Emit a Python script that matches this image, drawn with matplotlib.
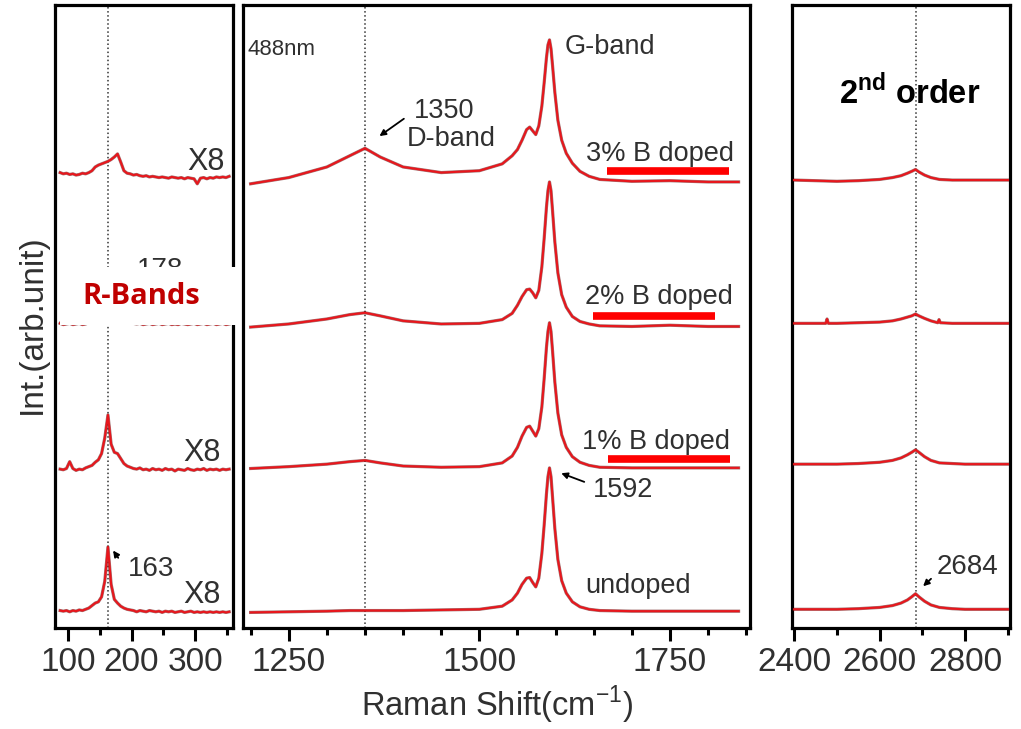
import numpy as np
import matplotlib
matplotlib.use("Agg")
import matplotlib.pyplot as plt
from matplotlib.patches import Rectangle

plt.rcParams['font.family'] = ['Liberation Sans', 'DejaVu Sans']
plt.rcParams['mathtext.fontset'] = 'custom'
plt.rcParams['mathtext.rm'] = 'Liberation Sans'
plt.rcParams['mathtext.bf'] = 'Liberation Sans:bold'

# ---------------- data (arbitrary stacked units) ----------------
# low-frequency R-band region
x_left = [88, 93, 98, 103, 108, 113, 118, 123, 128, 133, 138, 143, 148, 153, 158, 163, 168, 173,
          178, 183, 188, 193, 198, 203, 208, 213, 218, 223, 228, 233, 238, 243, 248, 253, 258, 263,
          268, 273, 278, 283, 288, 293, 298, 303, 308, 313, 318, 323, 328, 333, 338, 343, 348, 353]
left_3 = [73.1, 72.9, 73.0, 72.8, 72.9, 72.7, 72.8, 73.0, 72.9, 73.1, 73.4, 74.0, 74.3, 74.5, 74.7,
          74.9, 75.2, 75.6, 76.1, 74.8, 73.4, 73.0, 72.9, 72.7, 72.8, 72.6, 72.5, 72.6, 72.4, 72.5,
          72.4, 72.3, 72.4, 72.3, 72.2, 72.4, 72.3, 72.2, 72.3, 72.1, 72.3, 72.2, 72.1, 71.3, 72.2,
          72.3, 72.1, 72.3, 72.2, 72.4, 72.3, 72.4, 72.3, 72.5]
left_2 = [48.9, 48.7, 48.8, 48.9, 48.7, 48.8, 48.9, 48.7, 48.8, 49.0, 49.1, 49.4, 49.8, 50.3, 51.0,
          51.8, 52.3, 53.0, 53.8, 51.5, 49.8, 49.2, 49.0, 48.9, 48.8, 48.9, 48.7, 48.8, 48.9, 48.7,
          48.8, 48.9, 48.7, 48.8, 48.9, 48.7, 48.8, 48.7, 48.9, 48.8, 48.7, 48.8, 48.9, 48.7, 48.8,
          48.9, 48.7, 48.8, 48.9, 48.7, 48.8, 48.9, 48.7, 48.8]
left_1 = [25.5, 25.4, 25.6, 26.7, 25.6, 25.3, 25.5, 25.4, 25.7, 25.9, 26.1, 26.6, 27.0, 28.0, 30.5,
          34.2, 29.5, 28.2, 28.0, 27.2, 26.4, 26.0, 25.8, 25.6, 25.5, 25.7, 25.4, 25.5, 25.3, 25.6,
          25.4, 25.5, 25.3, 25.6, 25.4, 25.5, 25.2, 25.5, 25.4, 25.3, 25.6, 25.4, 25.3, 25.5, 25.4,
          25.6, 25.3, 25.5, 25.4, 25.5, 25.3, 25.5, 25.4, 25.5]
left_0 = [2.8, 2.7, 2.8, 2.6, 2.8, 2.7, 2.9, 2.8, 3.0, 3.2, 3.6, 4.0, 4.2, 5.0, 7.5,
          13.0, 7.0, 4.6, 4.0, 3.5, 3.2, 3.0, 2.9, 2.8, 2.6, 2.8, 2.7, 2.6, 2.8, 2.7,
          2.6, 2.7, 2.5, 2.7, 2.6, 2.7, 2.5, 2.6, 2.7, 2.5, 2.6, 2.7, 2.5, 2.6, 2.5,
          2.6, 2.5, 2.6, 2.5, 2.6, 2.5, 2.6, 2.5, 2.6]

# first-order D / G region
x_mid = [1200, 1250, 1300, 1330, 1350, 1370, 1400, 1450, 1500, 1530, 1543, 1550, 1556, 1562,
         1566, 1570, 1574, 1578, 1582, 1585, 1588, 1590, 1592, 1594, 1596, 1599, 1603, 1608,
         1614, 1622, 1632, 1644, 1658, 1700, 1750, 1800, 1840]
mid_3 = [71.3, 72.3, 74.0, 75.8, 77.0, 75.6, 74.0, 73.1, 73.4, 74.5, 75.8, 76.8, 78.3, 80.0,
         80.4, 79.8, 79.2, 80.6, 83.8, 87.5, 91.5, 93.6, 94.4, 93.0, 90.3, 86.0, 81.5, 78.3,
         76.2, 74.6, 73.3, 72.5, 72.0, 71.7, 71.8, 71.6, 71.6]
mid_2 = [48.3, 48.8, 49.6, 50.3, 50.6, 50.1, 49.3, 48.8, 48.9, 49.5, 50.5, 51.8, 53.2, 54.3,
         54.4, 53.8, 53.0, 54.2, 58.0, 62.5, 67.5, 70.2, 71.6, 70.2, 67.0, 62.0, 57.0, 53.5,
         51.5, 50.0, 49.2, 48.8, 48.5, 48.4, 48.6, 48.4, 48.4]
mid_1 = [25.6, 25.9, 26.3, 26.7, 26.9, 26.5, 26.0, 25.8, 25.9, 26.5, 27.6, 29.0, 30.8, 32.2,
         32.4, 31.6, 30.8, 32.0, 35.5, 40.0, 45.0, 47.6, 49.0, 47.6, 44.5, 39.5, 34.5, 31.0,
         29.0, 27.5, 26.6, 26.1, 25.8, 25.7, 25.7, 25.7, 25.7]
mid_0 = [2.5, 2.6, 2.7, 2.8, 2.8, 2.8, 2.8, 2.9, 3.0, 3.5, 4.5, 5.6, 7.0, 8.0,
         8.1, 7.3, 6.6, 8.0, 12.0, 16.5, 21.5, 24.3, 25.7, 24.3, 21.0, 16.0, 11.0, 7.6,
         5.6, 4.2, 3.4, 3.0, 2.8, 2.7, 2.7, 2.7, 2.7]

# second-order 2D region
x_right = [2400, 2450, 2500, 2550, 2600, 2630, 2650, 2665, 2675, 2684, 2692, 2705, 2720, 2740,
           2770, 2800, 2850, 2900]
right_3 = [71.9, 71.8, 71.7, 71.8, 72.0, 72.3, 72.6, 73.0, 73.3, 73.6, 73.2, 72.7, 72.3, 72.0,
           71.9, 71.9, 71.9, 71.9]
x_right_2 = [2400, 2450, 2474, 2477, 2480, 2500, 2550, 2600, 2630, 2650, 2665, 2675, 2684, 2692,
             2705, 2720, 2736, 2739, 2742, 2770, 2800, 2850, 2900]
right_2 = [48.9, 48.9, 48.9, 49.6, 48.9, 48.9, 49.0, 49.1, 49.3, 49.6, 49.9, 50.1, 50.4, 50.1,
           49.7, 49.3, 49.0, 49.5, 49.0, 48.9, 48.9, 48.9, 48.9]
right_1 = [26.3, 26.3, 26.3, 26.4, 26.6, 26.9, 27.3, 27.8, 28.2, 28.6, 28.2, 27.5, 26.9, 26.5,
           26.4, 26.3, 26.3, 26.3]
right_0 = [3.0, 3.0, 3.0, 3.1, 3.3, 3.6, 4.0, 4.5, 5.0, 5.5, 5.0, 4.3, 3.7, 3.3,
           3.1, 3.0, 3.0, 3.0]

sample_labels = ["3% B doped", "2% B doped", "1% B doped", "undoped"]
peak_lines = [163, 1350, 2684]

# ---------------- figure ----------------
TXT = '#303030'
RED = '#e8161c'

fig = plt.figure(figsize=(10.21, 7.29), dpi=100)
b, h = 1 - 628 / 729, 623 / 729
ax_l = fig.add_axes([55 / 1021, b, 178 / 1021, h])
ax_m = fig.add_axes([243 / 1021, b, 507 / 1021, h])
ax_r = fig.add_axes([792 / 1021, b, 218 / 1021, h])


def spec(ax, x, y):
    ax.plot(x, y, color='#5a0000', lw=2.3, alpha=0.55, zorder=3)
    ax.plot(x, y, color=RED, lw=1.5, zorder=4)


for y in [left_3, left_2, left_1, left_0]:
    spec(ax_l, x_left, y)
for y in [mid_3, mid_2, mid_1, mid_0]:
    spec(ax_m, x_mid, y)
spec(ax_r, x_right, right_3)
spec(ax_r, x_right_2, right_2)
spec(ax_r, x_right, right_1)
spec(ax_r, x_right, right_0)

for ax, xl, pk in zip([ax_l, ax_m, ax_r], [(80, 359), (1190, 1855), (2395, 2905)], peak_lines):
    ax.set_xlim(*xl)
    ax.set_ylim(0, 100)
    ax.axvline(pk, color='#333333', ls=':', lw=1.1, zorder=2)
    ax.set_yticks([])
    for s in ax.spines.values():
        s.set_linewidth(2.3)
    ax.tick_params(axis='x', which='major', direction='out', length=9, width=2.2,
                   labelsize=24, pad=5, labelcolor=TXT)
    ax.tick_params(axis='x', which='minor', direction='out', length=5, width=2.2)

ax_l.set_xticks([100, 200, 300])
ax_l.set_xticks([150, 250, 350], minor=True)
ax_m.set_xticks([1250, 1500, 1750])
ax_m.set_xticks(range(1200, 1851, 50), minor=True)
ax_r.set_xticks([2400, 2600, 2800])
ax_r.set_xticks([2500, 2700, 2900], minor=True)

# left panel texts
ax_l.text(346, 74.8, 'X8', ha='right', va='center', fontsize=22, color=TXT)
ax_l.text(340, 28.1, 'X8', ha='right', va='center', fontsize=22, color=TXT)
ax_l.text(340, 5.3, 'X8', ha='right', va='center', fontsize=22, color=TXT)
ax_l.text(194, 9.5, '163', ha='left', va='center', fontsize=20, color=TXT)
ax_l.annotate('', xy=(168.5, 12.8), xytext=(181.6, 10.9),
              arrowprops=dict(arrowstyle='-|>', color='k', lw=1.3, mutation_scale=9))
ax_l.text(244, 57.5, '178', ha='center', va='center', fontsize=20, color=TXT)

# middle panel texts
ax_m.text(1196, 92.8, '488nm', ha='left', va='center', fontsize=16, color=TXT)
ax_m.text(1612, 93.3, 'G-band', ha='left', va='center', fontsize=19.5, color=TXT)
ax_m.text(1414, 83.0, '1350', ha='left', va='center', fontsize=19.5, color=TXT)
ax_m.text(1405, 78.5, 'D-band', ha='left', va='center', fontsize=19.5, color=TXT)
ax_m.annotate('', xy=(1366, 78.7), xytext=(1404, 82.0),
              arrowprops=dict(arrowstyle='-|>', color='k', lw=1.3, mutation_scale=9))
label_pos = [(1640, 76.1), (1639, 53.1), (1635, 29.9), (1639, 6.7)]
for lab, (lx, ly) in zip(sample_labels, label_pos):
    ax_m.text(lx, ly, lab, ha='left', va='center', fontsize=19.5, color=TXT)
for x0, x1, yb in [(1668, 1827, 73.3), (1649, 1809, 50.1), (1669, 1829, 27.1)]:
    ax_m.plot([x0, x1], [yb, yb], color='#ff0000', lw=5.5, solid_capstyle='butt', zorder=5)
ax_m.text(1649, 22.2, '1592', ha='left', va='center', fontsize=19.5, color=TXT)
ax_m.annotate('', xy=(1604, 25.0), xytext=(1641, 23.3),
              arrowprops=dict(arrowstyle='-|>', color='k', lw=1.3, mutation_scale=9))

# right panel texts
ax_r.text(2671, 86.0, r'2$^{\mathbf{nd}}$ order', ha='center', va='center',
          fontsize=23.5, fontweight='bold', color='black')
ax_r.text(2734, 9.8, '2684', ha='left', va='center', fontsize=20, color=TXT)
ax_r.annotate('', xy=(2697, 6.4), xytext=(2725, 8.2),
              arrowprops=dict(arrowstyle='-|>', color='k', lw=1.3, mutation_scale=9))

# axis labels
fig.text(32 / 1021, 1 - 324 / 729, 'Int.(arb.unit)', rotation=90, ha='center', va='center',
         fontsize=24, color=TXT)
fig.text(497 / 1021, 1 - 705 / 729, r'Raman Shift(cm$^{-1}$)', ha='center', va='center',
         fontsize=23.5, color=TXT)

# R-Bands label box on top
box = Rectangle((60 / 1021, 1 - 325 / 729), 177 / 1021, 58 / 729, transform=fig.transFigure,
                facecolor='white', edgecolor='none', zorder=10)
fig.add_artist(box)
fig.text(141 / 1021, 1 - 297 / 729, 'R-Bands', ha='center', va='center', fontsize=21,
         fontweight='bold', color='#c00000', family=['Open Sans', 'DejaVu Sans'], zorder=11)

fig.savefig('out.png', dpi=100)
